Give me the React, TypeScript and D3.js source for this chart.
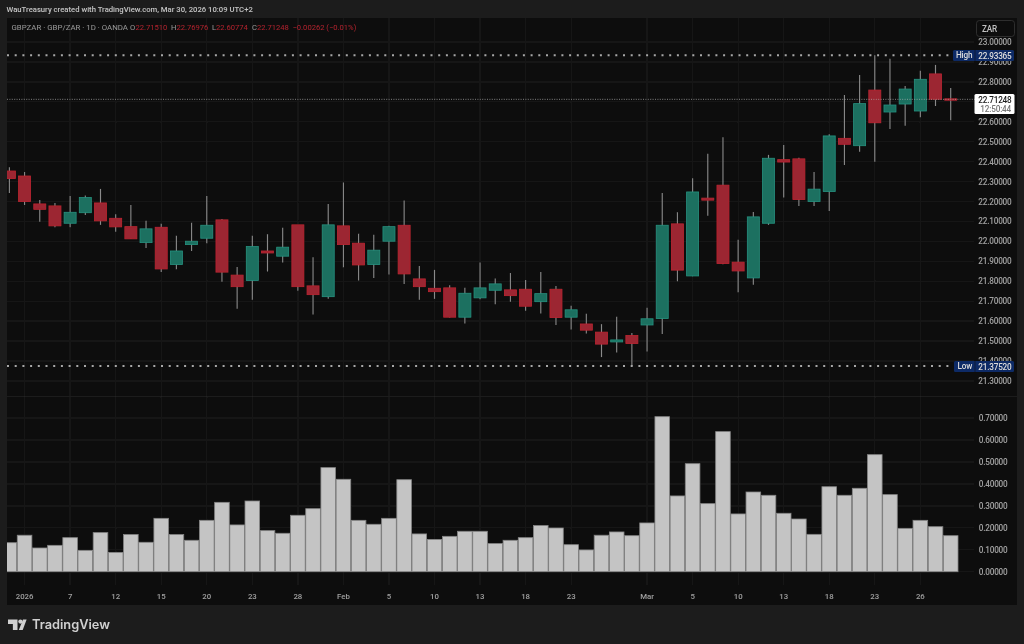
import React from "react";
import * as d3 from "d3";

const opens = [22.353,22.328,22.188,22.178,22.091,22.144,22.193,22.116,22.074,21.994,22.071,21.884,21.984,22.016,22.108,21.831,21.804,21.952,21.926,22.083,21.777,21.723,22.078,21.991,21.884,22.001,22.081,21.812,21.765,21.767,21.620,21.717,21.755,21.757,21.760,21.698,21.760,21.620,21.586,21.545,21.496,21.528,21.581,21.613,22.088,21.827,22.217,22.282,21.896,21.817,22.091,22.410,22.414,22.200,22.250,22.517,22.480,22.759,22.649,22.689,22.654,22.840,22.7151];
const highs = [22.372,22.348,22.208,22.192,22.228,22.230,22.263,22.136,22.183,22.103,22.088,22.029,22.094,22.228,22.113,21.872,22.029,22.036,22.068,22.011,21.921,22.188,22.295,22.038,22.033,22.078,22.205,21.877,21.857,21.780,21.767,21.894,21.814,21.842,21.807,21.846,21.777,21.677,21.637,21.585,21.622,21.541,21.667,22.243,22.146,22.317,22.439,22.522,22.008,22.148,22.434,22.484,22.419,22.348,22.537,22.734,22.835,22.93365,22.916,22.779,22.856,22.885,22.76976];
const lows = [22.243,22.183,22.098,22.071,22.071,22.133,22.083,22.048,22.013,21.967,21.846,21.861,21.952,21.991,21.798,21.662,21.707,21.849,21.894,21.753,21.633,21.713,21.871,21.804,21.817,21.834,21.787,21.707,21.712,21.618,21.588,21.710,21.685,21.697,21.652,21.638,21.581,21.558,21.538,21.420,21.443,21.3752,21.448,21.536,21.800,21.825,22.129,21.886,21.745,21.783,22.083,22.220,22.178,22.178,22.153,22.383,22.450,22.400,22.564,22.580,22.623,22.679,22.60774];
const closes = [22.315,22.200,22.161,22.078,22.146,22.220,22.103,22.073,22.013,22.063,21.862,21.952,22.001,22.081,21.846,21.773,21.974,21.942,21.971,21.773,21.733,22.083,21.984,21.882,21.956,22.074,21.837,21.773,21.748,21.620,21.740,21.767,21.787,21.728,21.675,21.738,21.618,21.657,21.555,21.485,21.506,21.488,21.612,22.081,21.856,22.248,22.207,21.889,21.852,22.123,22.417,22.398,22.210,22.262,22.529,22.487,22.691,22.595,22.684,22.764,22.813,22.713,22.71248];
const ranges = [0.132,0.166,0.108,0.12,0.155,0.097,0.178,0.088,0.169,0.134,0.243,0.169,0.143,0.234,0.316,0.213,0.322,0.187,0.175,0.257,0.287,0.474,0.421,0.234,0.216,0.243,0.419,0.172,0.147,0.161,0.184,0.184,0.128,0.143,0.155,0.21,0.199,0.123,0.099,0.166,0.181,0.164,0.222,0.706,0.345,0.492,0.31,0.638,0.263,0.363,0.348,0.266,0.24,0.17,0.387,0.348,0.38,0.533,0.351,0.197,0.234,0.205,0.164];
const priceTicks = [21.3,21.4,21.5,21.6,21.7,21.8,21.9,22.0,22.1,22.2,22.3,22.4,22.5,22.6,22.7,22.8,22.9,23.0];
const lowerTicks = [0,0.1,0.2,0.3,0.4,0.5,0.6,0.7];
const timeIdx = [1,4,7,10,13,16,19,22,25,28,31,34,37,42,45,48,51,54,57,60];
const timeLabels = ["2026","7","12","15","20","23","28","Feb","5","10","13","18","23","Mar","5","10","13","18","23","26"];
const highValue = 22.93365;
const lowValue = 21.3752;
const lastClose = 22.71248;

const FONT = "Roboto, 'Liberation Sans', sans-serif";
const UP = "#1c7060";
const UP_B = "#26917f";
const DOWN = "#9c2530";
const DOWN_B = "#bd2531";
const TAG = "#112c66";
const AXIS = 8.2;
const TIGHT = -0.2;

export default function App() {
  const x = d3.scaleLinear().domain([0, 62]).range([9.4, 950.7]);
  const y = d3.scaleLinear().domain([21.3, 23]).range([381, 42]);
  const v = d3.scaleLinear().domain([0, 0.7]).range([571.7, 418]);
  const bw = 12;
  const vw = 14.6;
  const curY = y(lastClose);
  const hiY = y(highValue);
  const loY = y(lowValue);
  return (
    <svg width={1024} height={644} style={{ position: "absolute", left: 0, top: 0, fontFamily: FONT }}>
      <defs>
        <clipPath id="pane"><rect x={7} y={18} width={1010} height={587} /></clipPath>
        <filter id="soft" x="0" y="0" width="100%" height="100%"><feGaussianBlur stdDeviation={0.3} /></filter>
      </defs>
      <g filter="url(#soft)">
      <rect width={1024} height={644} fill="#1f1f1f" />
      <rect x={7} y={18} width={1010} height={587} fill="#0f0f0f" />
      <text x={6.5} y={12} fontSize={7.7} fontWeight={500} fill="#c4c4c4">WauTreasury created with TradingView.com, Mar 30, 2026 10:09 UTC+2</text>

      {/* grid */}
      {timeIdx.map((t) => (
        <line key={t} x1={x(t)} x2={x(t)} y1={18} y2={585} stroke="#191919" strokeWidth={1} />
      ))}
      {priceTicks.map((t) => (
        <line key={t} x1={7} x2={974} y1={y(t)} y2={y(t)} stroke="#191919" strokeWidth={1} />
      ))}
      {lowerTicks.map((t) => (
        <line key={t} x1={7} x2={974} y1={v(t)} y2={v(t)} stroke="#191919" strokeWidth={1} />
      ))}
      <line x1={7} x2={1017} y1={396.6} y2={396.6} stroke="#222222" strokeWidth={1} />

      {/* candles and range bars */}
      <g clipPath="url(#pane)">
        {opens.map((o, i) => {
          const c = closes[i];
          const up = c >= o;
          const top = y(Math.max(o, c));
          const h = Math.max(1.4, y(Math.min(o, c)) - top);
          return (
            <g key={i}>
              <line x1={x(i)} x2={x(i)} y1={y(highs[i])} y2={y(lows[i])} stroke="#8a8a8a" strokeWidth={1.1} />
              <rect x={x(i) - bw / 2} y={top} width={bw} height={h}
                fill={up ? UP : DOWN} stroke={up ? UP_B : DOWN_B} strokeWidth={0.8} />
            </g>
          );
        })}
        {ranges.map((r, i) => (
          <rect key={i} x={x(i) - vw / 2} y={v(r)} width={vw} height={v(0) - v(r)}
            fill="#c4c4c4" stroke="#858585" strokeWidth={0.8} />
        ))}
      </g>

      {/* last price line */}
      <line x1={7} x2={975} y1={curY} y2={curY} stroke="#b0b0b0" strokeWidth={0.7} strokeDasharray="1 1.4" />

      {/* high / low lines */}
      <line x1={7} x2={953} y1={hiY} y2={hiY} stroke="#a8a8a8" strokeWidth={2} strokeDasharray="2 5.7" />
      <line x1={7} x2={953} y1={loY} y2={loY} stroke="#a8a8a8" strokeWidth={2} strokeDasharray="2 5.7" />

      {/* price axis */}
      {priceTicks.map((t) => (
        <text key={t} x={1011.5} y={y(t) + 3} fontSize={AXIS} letterSpacing={TIGHT} fontWeight={500} textAnchor="end" fill="#a0a0a0">{t.toFixed(5)}</text>
      ))}
      {lowerTicks.map((t) => (
        <text key={t} x={1007.5} y={v(t) + 3} fontSize={AXIS} letterSpacing={TIGHT} fontWeight={500} textAnchor="end" fill="#a0a0a0">{t.toFixed(5)}</text>
      ))}

      {/* time axis */}
      {timeIdx.map((t, i) => (
        <text key={t} x={x(t)} y={599} fontSize={7.8} fontWeight={500} textAnchor="middle" fill="#a0a0a0">{timeLabels[i]}</text>
      ))}

      {/* legend */}
      <text x={11.5} y={29.5} fontSize={7.85} fill="#999999">GBPZAR · GBP/ZAR · 1D · OANDA</text>
      <text y={29.5} fontSize={7.6}>
        <tspan x={130} fill="#999999">O</tspan><tspan x={135.5} fill="#b2222e">22.71510</tspan>
        <tspan x={171} fill="#999999">H</tspan><tspan x={176.5} fill="#b2222e">22.76976</tspan>
        <tspan x={212} fill="#999999">L</tspan><tspan x={216} fill="#b2222e">22.60774</tspan>
        <tspan x={252} fill="#999999">C</tspan><tspan x={257} fill="#b2222e">22.71248</tspan>
        <tspan x={292.5} fill="#b2222e">−0.00262 (−0.01%)</tspan>
      </text>

      {/* ZAR button */}
      <rect x={976.5} y={20.5} width={38} height={16} rx={3} fill="#0f0f0f" stroke="#2e2e2e" />
      <text x={982} y={31.5} fontSize={AXIS} letterSpacing={TIGHT} fontWeight={500} fill="#c0c0c0">ZAR</text>

      {/* High / Low tags */}
      <rect x={953} y={50} width={61} height={11} rx={1.5} fill={TAG} />
      <line x1={975} x2={975} y1={50} y2={61} stroke="#0f0f0f" strokeWidth={0.5} />
      <text x={956} y={58.3} fontSize={AXIS} letterSpacing={TIGHT} fontWeight={500} fill="#dcdcdc">High</text>
      <text x={1011.5} y={58.5} fontSize={AXIS} letterSpacing={TIGHT} fontWeight={500} textAnchor="end" fill="#dcdcdc">22.93365</text>
      <rect x={954} y={361} width={60} height={11} rx={1.5} fill={TAG} />
      <line x1={975} x2={975} y1={361} y2={372} stroke="#0f0f0f" strokeWidth={0.5} />
      <text x={957.5} y={369.3} fontSize={AXIS} letterSpacing={TIGHT} fontWeight={500} fill="#dcdcdc">Low</text>
      <text x={1011.5} y={369.5} fontSize={AXIS} letterSpacing={TIGHT} fontWeight={500} textAnchor="end" fill="#dcdcdc">21.37520</text>

      {/* last price tag */}
      <rect x={974.5} y={94} width={40} height={20} rx={1.5} fill="#ffffff" />
      <text x={1011.5} y={102.5} fontSize={AXIS} letterSpacing={TIGHT} fontWeight={500} textAnchor="end" fill="#1a1a1a">22.71248</text>
      <text x={1011} y={111.5} fontSize={AXIS} letterSpacing={TIGHT} fontWeight={500} textAnchor="end" fill="#777777">12:50:44</text>

      {/* logo */}
      <g fill="#d0d0d0">
        <path d="M8 619.5h9.5v10.6h-4.6v-6h-4.9z" />
        <circle cx={20.4} cy={621.6} r={2.1} />
        <path d="M18.8 630.1l4.2-10.6h3.6l-3.9 10.6z" />
      </g>
      <text x={32} y={629.3} fontSize={12.8} fontWeight={600} fontFamily="Inter, Roboto, sans-serif" fill="#d0d0d0">TradingView</text>
      </g>
    </svg>
  );
}
